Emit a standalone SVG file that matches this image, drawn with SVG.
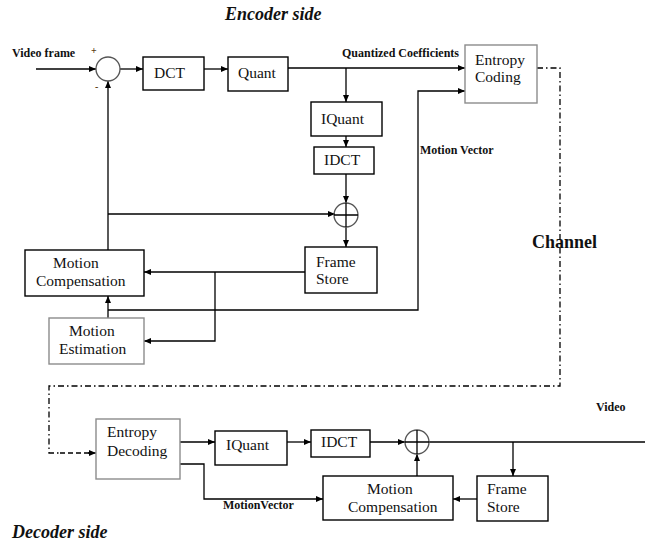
<svg xmlns="http://www.w3.org/2000/svg" width="645" height="544" viewBox="0 0 645 544">
<defs>
<marker id="ah" markerUnits="userSpaceOnUse" markerWidth="8" markerHeight="8" refX="7" refY="3" orient="auto">
<path d="M0,0 L7,3 L0,6 z" fill="#000"/>
</marker>
<style>
.box{fill:#fff;stroke:#000;stroke-width:1.4}
.gbox{fill:#fff;stroke:#8c8c8c;stroke-width:1.4}
.circ{fill:none;stroke:#555;stroke-width:1.3}
.ln{fill:none;stroke:#000;stroke-width:1.3}
.arr{fill:none;stroke:#000;stroke-width:1.3;marker-end:url(#ah)}
.dd{fill:none;stroke:#000;stroke-width:1.3;stroke-dasharray:6 3 1.5 3}
.ds{fill:none;stroke:#000;stroke-width:1.3;stroke-dasharray:5 3}
.t{font-family:"Liberation Serif","Times New Roman",serif;font-size:15.5px;fill:#111}
.lb{font-family:"Liberation Serif","Times New Roman",serif;font-size:12px;font-weight:bold;fill:#111}
.ch{font-family:"Liberation Serif","Times New Roman",serif;font-size:18px;font-weight:bold;fill:#111}
.pm{font-family:"Liberation Serif","Times New Roman",serif;font-size:10px;font-weight:bold;fill:#5a3a10}
.ti{font-family:"Liberation Serif","Times New Roman",serif;font-size:18px;font-weight:bold;font-style:italic;fill:#111}
</style>
</defs>
<rect width="645" height="544" fill="#fff"/>

<g id="labels">
<text class="ti" x="225" y="20">Encoder side</text>
<text class="ti" x="12" y="538">Decoder side</text>
<text class="lb" x="12" y="57">Video frame</text>
<text class="pm" x="91" y="54">+</text>
<text class="pm" x="95" y="90">-</text>
<text class="lb" x="342" y="57">Quantized Coefficients</text>
<text class="lb" x="420" y="154">Motion Vector</text>
<text class="ch" x="532" y="248">Channel</text>
<text class="lb" x="596" y="411">Video</text>
<text class="lb" x="223" y="509">MotionVector</text>
</g>

<g id="connectors">
<!-- encoder -->
<path class="arr" d="M36,69 H96"/>
<path class="arr" d="M120,69 H143"/>
<path class="arr" d="M204,69 H228"/>
<path class="arr" d="M288,68 H465"/>
<path class="arr" d="M346,68 V102"/>
<path class="arr" d="M346,136 V147"/>
<path class="arr" d="M346,174 V203"/>
<path class="arr" d="M346,227 V247"/>
<path class="arr" d="M108,250 V81"/>
<path class="arr" d="M108,214 H335"/>
<path class="arr" d="M305,272 H144"/>
<path class="arr" d="M215,272 V341 H144"/>
<path class="arr" d="M108,318 V296"/>
<path class="arr" d="M108,310 H418 V91 H465"/>
<!-- channel -->
<path class="dd" d="M537,68 H560 V386 H49 V453 H60"/>
<path class="ds" d="M60,453 H90"/>
<path class="arr" d="M88,453 H96"/>
<!-- decoder -->
<path class="arr" d="M180,442 H215"/>
<path class="arr" d="M287,442 H311"/>
<path class="arr" d="M370,442 H405"/>
<path class="ln" d="M429,442 H645"/>
<path class="arr" d="M513,442 V476"/>
<path class="arr" d="M477,499 H453"/>
<path class="arr" d="M417,476 V454"/>
<path class="arr" d="M180,464 H204 V499 H323"/>
</g>

<g id="sub"><circle class="circ" cx="108" cy="69" r="12"/></g>
<g id="dct"><rect class="box" x="143" y="57" width="61" height="33"/><text class="t" x="154" y="78">DCT</text></g>
<g id="quant"><rect class="box" x="228" y="57" width="60" height="34"/><text class="t" x="238" y="78">Quant</text></g>
<g id="entropy-coding"><rect class="gbox" x="465" y="45" width="72" height="58"/><text class="t" x="475" y="65">Entropy</text><text class="t" x="475" y="82">Coding</text></g>
<g id="iquant-enc"><rect class="box" x="311" y="102" width="71" height="34"/><text class="t" x="321" y="124">IQuant</text></g>
<g id="idct-enc"><rect class="box" x="314" y="147" width="60" height="27"/><text class="t" x="324" y="165">IDCT</text></g>
<g id="sum-enc"><circle class="circ" cx="346" cy="215" r="12"/><path class="ln" d="M346,203 V227 M334,215 H358"/></g>
<g id="framestore-enc"><rect class="box" x="305" y="247" width="72" height="46"/><text class="t" x="316" y="267">Frame</text><text class="t" x="316" y="284">Store</text></g>
<g id="mc-enc"><rect class="box" x="25" y="250" width="119" height="46"/><text class="t" x="53" y="268">Motion</text><text class="t" x="36" y="286">Compensation</text></g>
<g id="me-enc"><rect class="gbox" x="49" y="318" width="95" height="46"/><text class="t" x="69" y="336">Motion</text><text class="t" x="59" y="354">Estimation</text></g>

<g id="entropy-decoding"><rect class="gbox" x="96" y="419" width="84" height="60"/><text class="t" x="107" y="437">Entropy</text><text class="t" x="107" y="456">Decoding</text></g>
<g id="iquant-dec"><rect class="box" x="215" y="431" width="72" height="34"/><text class="t" x="226" y="450">IQuant</text></g>
<g id="idct-dec"><rect class="box" x="311" y="430" width="59" height="27"/><text class="t" x="321" y="447">IDCT</text></g>
<g id="sum-dec"><circle class="circ" cx="417" cy="442" r="12"/><path class="ln" d="M417,430 V454 M405,442 H429"/></g>
<g id="mc-dec"><rect class="box" x="323" y="476" width="130" height="44"/><text class="t" x="367" y="494">Motion</text><text class="t" x="348" y="512">Compensation</text></g>
<g id="framestore-dec"><rect class="box" x="477" y="476" width="71" height="45"/><text class="t" x="487" y="494">Frame</text><text class="t" x="487" y="512">Store</text></g>
</svg>
